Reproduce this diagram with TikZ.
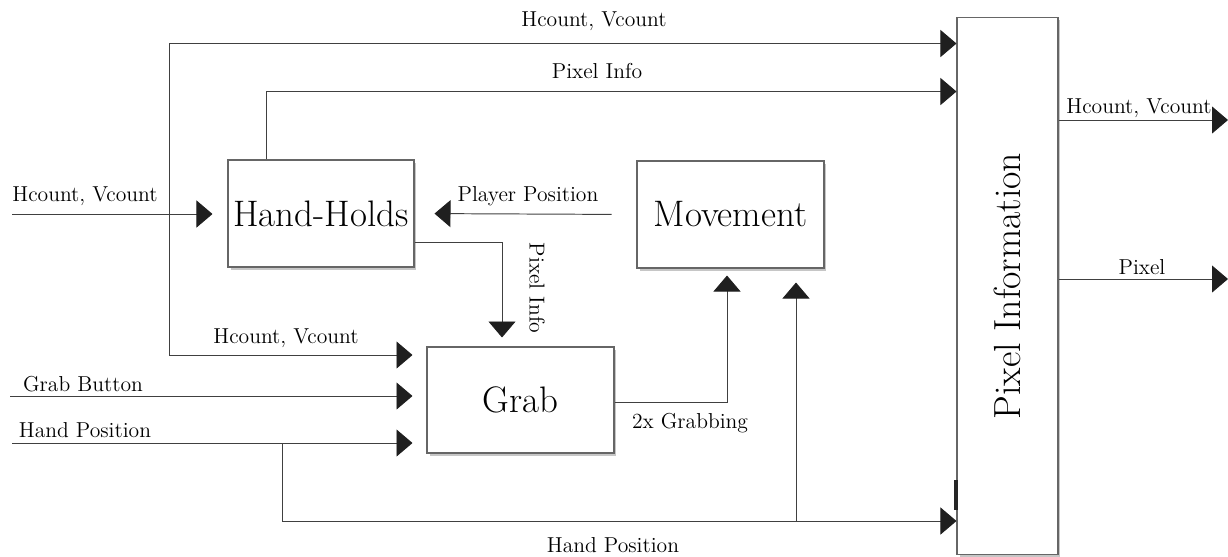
\documentclass[tikz,border=0pt]{standalone}
\usepackage{fontspec}
\usetikzlibrary{arrows.meta,shadows}

\tikzset{
  block/.style={draw=black!60, fill=white, line width=0.6pt, inner sep=0pt,
    drop shadow={shadow xshift=0.05cm, shadow yshift=-0.05cm, opacity=0.45},
    font=\fontsize{21}{24}\selectfont},
  wire/.style={draw=black!75, line width=0.55pt,
    -{Triangle[length=0.32cm, width=0.54cm, color=black!88]}},
  lbl/.style={font=\fontsize{12.3}{14}\selectfont, inner sep=0pt},
}

\begin{document}
\begin{tikzpicture}[x=0.02cm, y=-0.02cm]
  \useasboundingbox (0,0) rectangle (1228,556);

  % blocks
  \node[block, minimum width=3.72cm, minimum height=2.14cm] (hold) at (321,213.5) {Hand-Holds};
  \node[block, minimum width=3.74cm, minimum height=2.14cm] (move) at (730.5,214.5) {Movement};
  \node[block, minimum width=3.74cm, minimum height=2.12cm] (grab) at (520.5,400) {Grab};
  \node[block, minimum width=2.02cm, minimum height=10.76cm] (pix) at (1007.5,286) {};
  \node[rotate=90, font=\fontsize{21.5}{24}\selectfont] (pixtxt) at (pix.center) {Pixel Information};

  % free ends and taps
  \coordinate (hvsrc) at (12,214);
  \coordinate (gbsrc) at (10,396);
  \coordinate (hpsrc) at (12,443);
  \coordinate (hvtap) at (169,355);
  \coordinate (hptap) at (282,443);
  \coordinate (hpfork) at (796,521);
  \coordinate (hvout) at (1228,120);
  \coordinate (pxout) at (1228,279);

  % inputs
  \draw[wire, shorten >=0.3cm] (hvsrc) -- (hvsrc -| hold.west) node[lbl] at (85,196) {Hcount, Vcount};
  \draw[wire, shorten >=0.28cm] (gbsrc) -- (gbsrc -| grab.west) node[lbl] at (83,384) {Grab Button};
  \draw[wire, shorten >=0.28cm] (hpsrc) -- (hpsrc -| grab.west) node[lbl] at (85,430) {Hand Position};

  % Hcount, Vcount to Grab and Pixel Information
  \draw[wire] (hvtap) |- ([yshift=-0.54cm]pix.north west) node[lbl] at (594,21) {Hcount, Vcount};
  \draw[wire, shorten >=0.28cm] (hvtap) -- (hvtap -| grab.west) node[lbl] at (286,338) {Hcount, Vcount};

  % Hand-Holds
  \draw[wire] ([xshift=0.78cm]hold.north west) |- ([yshift=-1.5cm]pix.north west) node[lbl] at (597,71) {Pixel Info};
  \draw[wire, shorten >=0.18cm] ([yshift=-0.57cm]hold.east) -| ([xshift=-0.37cm]grab.north) node[lbl, rotate=-90] at (537,288) {Pixel Info};
  \draw[wire, shorten <=0.5cm, shorten >=0.4cm] (move.west) -- (hold.east) node[lbl] at (528,196) {Player Position};

  % Grab to Movement
  \draw[wire, shorten >=0.14cm] ([yshift=-0.04cm]grab.east) -| ([xshift=-0.07cm]move.south) node[lbl] at (690,423) {2x Grabbing};

  % Hand Position to Movement and Pixel Information
  \draw[wire] (hptap) |- (hpfork) -- (hpfork -| pix.west) node[lbl] at (613,545) {Hand Position};
  \draw[wire, shorten >=0.28cm] (hpfork) -- (hpfork |- move.south);
  \draw[line width=2pt, black!85] (956,480) -- (956,510);

  % outputs
  \draw[wire] (pix.east |- hvout) -- (hvout) node[lbl] at (1139,108) {Hcount, Vcount};
  \draw[wire] (pix.east |- pxout) -- (pxout) node[lbl] at (1142,267) {Pixel};
\end{tikzpicture}
\end{document}
